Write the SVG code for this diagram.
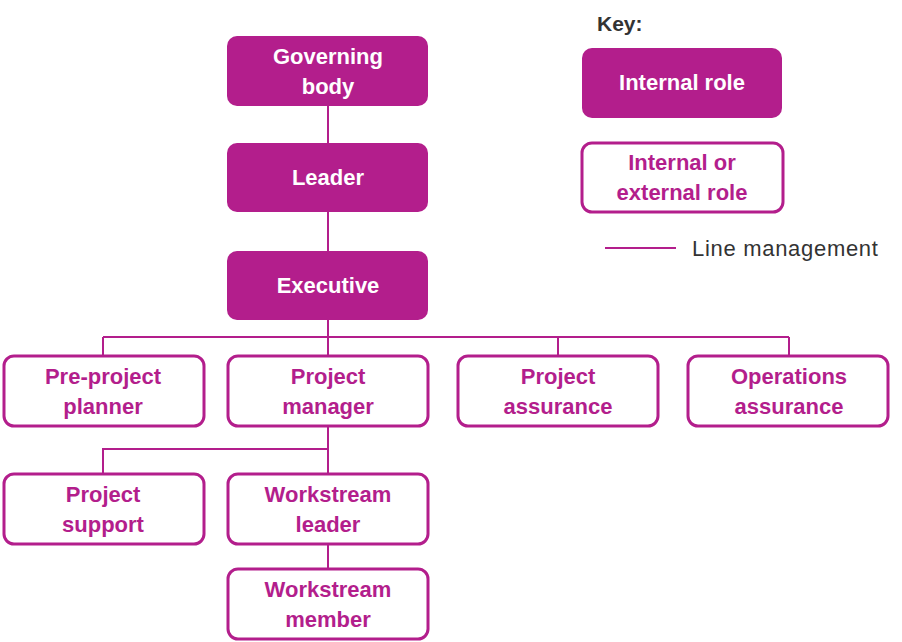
<svg xmlns="http://www.w3.org/2000/svg" width="902" height="642" viewBox="0 0 902 642">
<style>
.f{fill:#B31E8C}
.o{fill:#fff;stroke:#B31E8C;stroke-width:3}
.t{font-family:"Liberation Sans",Arial,sans-serif;font-weight:bold;font-size:22px;text-anchor:middle}
.w{fill:#fff}
.p{fill:#B31E8C}
.c{stroke:#B31E8C;stroke-width:2;fill:none}
.k{font-family:"Liberation Sans",Arial,sans-serif;fill:#333}
</style>
<rect width="902" height="642" fill="#fff"/>
<g id="connectors" class="c">
<path d="M328 106V143M328 212V251M328 320V355M103 337H789M103 337V355M558 337V355M789 337V355"/>
<path d="M328 427V473M328 449H103V473M328 545V568"/>
</g>
<g id="governing-body"><rect class="f" x="227" y="36" width="201" height="70" rx="10"/><text class="t w" x="328" y="64">Governing</text><text class="t w" x="328" y="94">body</text></g>
<g id="leader"><rect class="f" x="227" y="143" width="201" height="69" rx="10"/><text class="t w" x="328" y="185">Leader</text></g>
<g id="executive"><rect class="f" x="227" y="251" width="201" height="69" rx="10"/><text class="t w" x="328" y="293">Executive</text></g>
<g id="pre-project-planner"><rect class="o" x="4" y="356" width="200" height="70" rx="10"/><text class="t p" x="103" y="384">Pre-project</text><text class="t p" x="103" y="414">planner</text></g>
<g id="project-manager"><rect class="o" x="228" y="356" width="200" height="70" rx="10"/><text class="t p" x="328" y="384">Project</text><text class="t p" x="328" y="414">manager</text></g>
<g id="project-assurance"><rect class="o" x="458" y="356" width="200" height="70" rx="10"/><text class="t p" x="558" y="384">Project</text><text class="t p" x="558" y="414">assurance</text></g>
<g id="operations-assurance"><rect class="o" x="688" y="356" width="200" height="70" rx="10"/><text class="t p" x="789" y="384">Operations</text><text class="t p" x="789" y="414">assurance</text></g>
<g id="project-support"><rect class="o" x="4" y="474" width="200" height="70" rx="10"/><text class="t p" x="103" y="502">Project</text><text class="t p" x="103" y="532">support</text></g>
<g id="workstream-leader"><rect class="o" x="228" y="474" width="200" height="70" rx="10"/><text class="t p" x="328" y="502">Workstream</text><text class="t p" x="328" y="532">leader</text></g>
<g id="workstream-member"><rect class="o" x="228" y="569" width="200" height="70" rx="10"/><text class="t p" x="328" y="597">Workstream</text><text class="t p" x="328" y="627">member</text></g>
<g id="key">
<text class="k" x="597" y="31" font-size="21" font-weight="bold">Key:</text>
<rect class="f" x="582" y="48" width="200" height="70" rx="10"/><text class="t w" x="682" y="90">Internal role</text>
<rect class="o" x="582" y="143" width="201" height="69" rx="10"/><text class="t p" x="682" y="170">Internal or</text><text class="t p" x="682" y="200">external role</text>
<line class="c" x1="605" y1="248" x2="676" y2="248"/>
<text class="k" x="692" y="256" font-size="22" letter-spacing="0.7">Line management</text>
</g>
</svg>
